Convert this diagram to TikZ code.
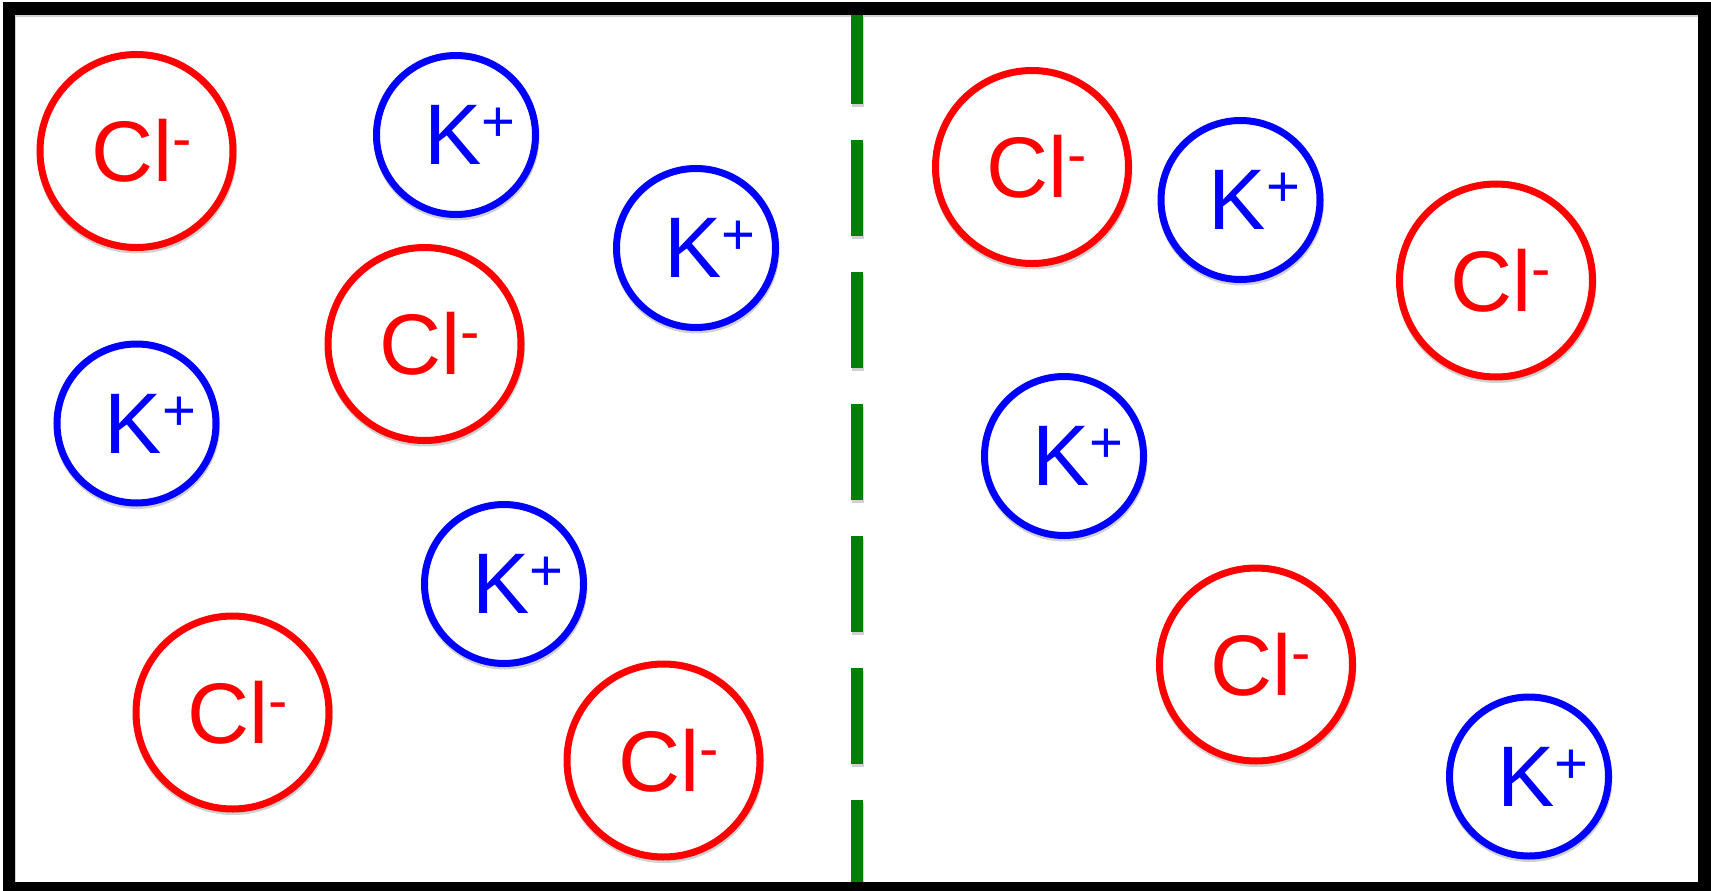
\documentclass[tikz,border=0pt]{standalone}
\usepackage{fontspec}
\setmainfont{Liberation Sans}
\usetikzlibrary{backgrounds}
\definecolor{ionred}{RGB}{255,0,0}
\definecolor{ionblue}{RGB}{0,0,255}
\definecolor{membgreen}{RGB}{0,128,0}
\newcommand\clsym{\hspace*{10pt}Cl\raisebox{23pt}{\fontsize{58}{58}\selectfont -}}
\newcommand\ksym{\hspace*{28pt}K\raisebox{23pt}{\fontsize{58}{58}\selectfont +}}
\tikzset{
  ionbase/.style={circle, fill=white, line width=7pt, inner sep=0pt,
    font=\fontsize{86}{86}\selectfont},
  anion/.style={ionbase, draw=ionred, text=ionred, minimum size=193pt},
  cation/.style={ionbase, draw=ionblue, text=ionblue, minimum size=159pt},
  shadowline/.style={draw=black!18, line width=7pt},
  membrane/.style={draw=membgreen, line width=12pt, dash pattern=on 96pt off 36pt},
  frame/.style={draw=black, line width=12.5pt}
}
\begin{document}
\begin{tikzpicture}[x=1pt,y=-1pt]
\useasboundingbox (0,0) rectangle (1711,891);
\coordinate (mtop) at (857,8);
\coordinate (mbot) at (857,888);
\coordinate (fa) at (9,8.5);
\coordinate (fb) at (1704.5,888.5);
\draw[membrane] (mtop) -- (mbot);
\draw[frame] (fa) rectangle (fb);
% left compartment
\node[anion]  (c1) at (136.5,151)   {\clsym};
\node[cation] (k1) at (456,135)     {\ksym};
\node[cation] (k2) at (696,248)     {\ksym};
\node[anion]  (c2) at (424.5,344)   {\clsym};
\node[cation] (k3) at (136.5,423.5) {\ksym};
\node[cation] (k4) at (504,584)     {\ksym};
\node[anion]  (c3) at (232.5,712.5) {\clsym};
\node[anion]  (c4) at (663.5,760.5) {\clsym};
% right compartment
\node[anion]  (c5) at (1032,167)    {\clsym};
\node[cation] (k5) at (1240.5,200)  {\ksym};
\node[anion]  (c6) at (1496,280.5)  {\clsym};
\node[cation] (k6) at (1064,456)    {\ksym};
\node[anion]  (c7) at (1256,664.5)  {\clsym};
\node[cation] (k7) at (1529,776.5)  {\ksym};
\begin{scope}[on background layer]
  \foreach \n in {c1,c2,c3,c4,c5,c6,c7}
    \draw[shadowline] ([shift={(0.5,2.5)}]\n.center) circle[radius=96.5pt];
  \foreach \n in {k1,k2,k3,k4,k5,k6,k7}
    \draw[shadowline] ([shift={(0.5,2.5)}]\n.center) circle[radius=79.5pt];
  \draw[shadowline, line width=12pt, dash pattern=on 96pt off 36pt]
    ([shift={(0.5,2.5)}]mtop) -- ([shift={(0.5,2.5)}]mbot);
  \draw[shadowline, line width=12.5pt]
    ([shift={(0.5,2.5)}]fa) rectangle ([shift={(0.5,2.5)}]fb);
\end{scope}
\end{tikzpicture}
\end{document}
